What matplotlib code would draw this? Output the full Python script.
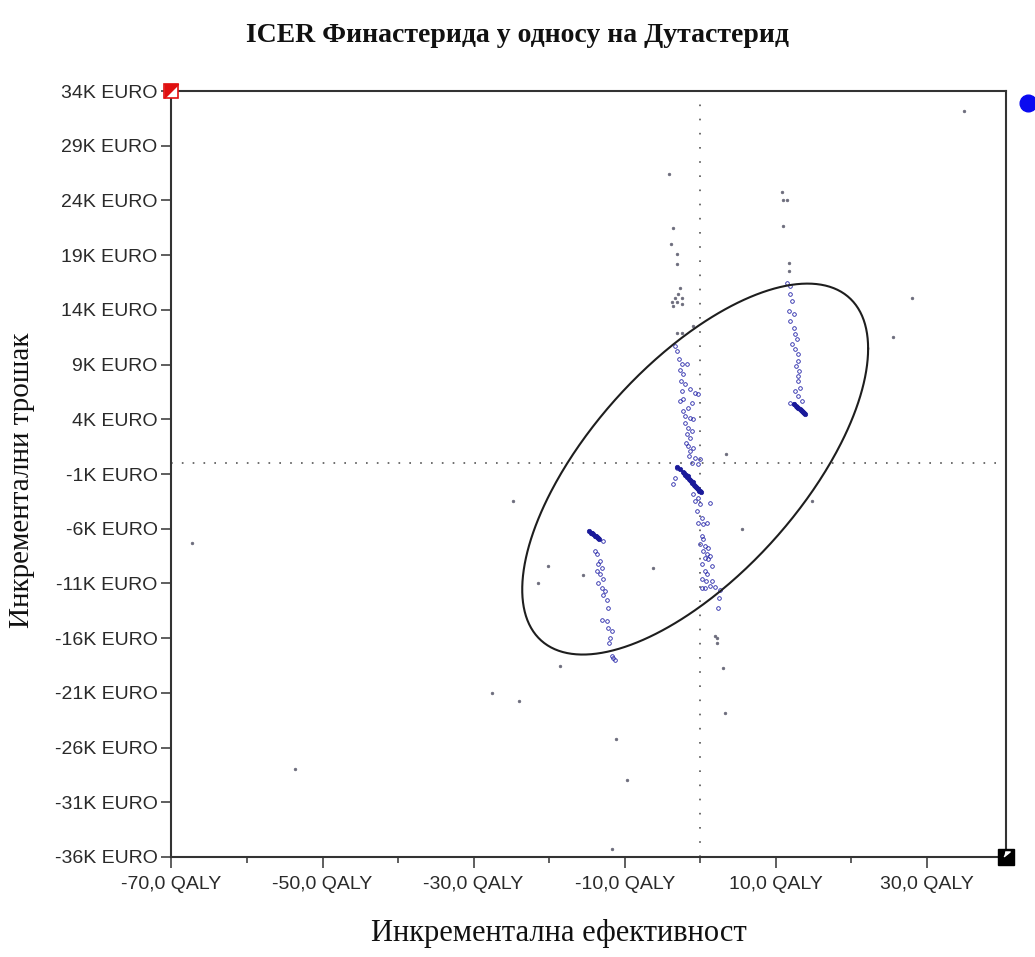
import matplotlib
matplotlib.use('Agg')
import matplotlib.pyplot as plt
import numpy as np

# Fonts: sans for ticks, serif for title and axis labels
plt.rcParams['font.family'] = ['Liberation Sans', 'DejaVu Sans']
SERIF = ['Liberation Serif', 'DejaVu Serif']

# ---- axis ticks ----
x_ticks = [-70, -50, -30, -10, 10, 30]
x_tick_labels = ['-70,0 QALY', '-50,0 QALY', '-30,0 QALY', '-10,0 QALY', '10,0 QALY', '30,0 QALY']
x_minor_ticks = [-60, -40, -20, 0, 20]
y_ticks = [34000, 29000, 24000, 19000, 14000, 9000, 4000, -1000, -6000,
           -11000, -16000, -21000, -26000, -31000, -36000]
y_tick_labels = ['34K EURO', '29K EURO', '24K EURO', '19K EURO', '14K EURO', '9K EURO',
                 '4K EURO', '-1K EURO', '-6K EURO', '-11K EURO', '-16K EURO', '-21K EURO',
                 '-26K EURO', '-31K EURO', '-36K EURO']

# ---- simulated ICER points (QALY, EURO) ----
# central band
central_x = [-3.31, -3.00, -2.74, -2.42, -2.65, -1.76, -2.29, -2.56, -1.99, -2.42,
             -1.32, -0.66, -0.23, -2.21, -2.65, -1.10, -1.55, -2.29, -1.99, -1.32,
             -0.89, -1.99, -1.55, -1.10, -1.76, -1.32, -1.85, -1.55, -0.89, -1.32,
             -1.42, -0.66, -1.10, -0.23, 0.00, -3.09, -3.31, -3.54, 1.32,
             -0.89, -0.23, -0.66, 0.00, -0.44, 0.22, -0.23, 0.44, 0.89,
             0.22, 0.44, 0.00, 0.66, 1.10, 0.44, 0.89, 1.32, 0.66, 1.10,
             0.22, 1.55, 0.66, 0.89, 0.22, 0.79, 1.55, 0.22, 0.66, 1.32,
             1.99, 2.65, 2.56, 2.42]
central_y = [10706, 10248, 9489, 9031, 8482, 9031, 8116, 7503, 7201, 6588,
             6744, 6432, 6286, 5829, 5673, 5517, 5060, 4758, 4301, 4145,
             3999, 3687, 3230, 2928, 2626, 2315, 1857, 1556, 1400, 1098,
             641, 485, 27, -119, 339, -430, -1345, -1949, -3633,
             -2864, -3175, -3477, -3779, -4392, -5005, -5463, -5609, -5463,
             -6680, -6982, -7439, -7595, -7750, -8052, -8354, -8510, -8665, -8811,
             -9269, -9425, -9882, -10184, -10641, -10797, -10797, -11410, -11410, -11255,
             -11346, -11556, -12325, -13240]
# dense diagonal streak in the central band
central_dense_x = [-3.05, -2.65, -2.25, -1.85, -1.46, -1.06, -0.66, -0.26, 0.13, -2.12,
                   -1.72, -1.32, -0.79, -0.40, 0.00, -1.59, -1.19, -1.99, -0.93, -0.53,
                   -0.13]
central_dense_y = [-366, -549, -824, -1098, -1464, -1830, -2105, -2379, -2654, -915,
                   -1281, -1556, -2013, -2288, -2562, -1190, -1647, -1098, -1739, -2196,
                   -2562]

# right cluster
right_x = [11.48, 11.92, 11.92, 12.15, 11.83, 12.36, 11.92, 12.36, 12.62, 12.81,
           12.15, 12.58, 12.89, 13.02, 12.72, 13.15, 12.89, 13.02, 13.25, 12.58,
           13.02, 13.47, 11.92, 12.36]
right_y = [16497, 16196, 15436, 14823, 13908, 13606, 12993, 12380, 11776, 11319,
           10861, 10403, 9946, 9333, 8876, 8418, 7961, 7503, 6890, 6588,
           6131, 5673, 5517, 5371]
right_dense_x = [12.45, 12.72, 12.98, 13.25, 13.51, 13.77, 12.85, 13.38, 13.64, 13.91]
right_dense_y = [5399, 5215, 5033, 4941, 4758, 4575, 5124, 4850, 4667, 4484]

# left cluster
left_x = [-12.81, -13.91, -13.68, -13.25, -13.47, -13.02, -13.68, -13.25, -12.81, -13.47,
          -13.02, -12.58, -12.81, -12.36, -12.15, -13.02, -12.36, -12.15, -11.70, -11.92,
          -12.01, -11.70, -11.26, -11.48]
left_y = [-7137, -8052, -8354, -8967, -9269, -9580, -9882, -10184, -10641, -10953,
          -11410, -11712, -12014, -12471, -13240, -14301, -14457, -15070, -15372, -15985,
          -16443, -17660, -17962, -17813]
left_dense_x = [-14.70, -14.44, -14.17, -13.91, -13.64, -13.38, -14.30, -13.77, -13.51]
left_dense_y = [-6222, -6405, -6497, -6680, -6771, -6954, -6405, -6680, -6863]

# scattered grey outliers
outlier_x = [-67.28, -53.64, -27.55, -23.97, -24.73, -21.42, -20.09, -18.54, -15.46, -11.66,
             -11.13, -9.67, 3.44, 5.52, 14.79, 25.56, 28.08, 34.97, -6.19, 1.99,
             2.29, 2.21, 3.01, 3.31,
             -4.06, -3.54, -3.88, -3.09, -3.09, -2.65, -2.87, -3.31, -2.42, -3.75,
             -3.09, -2.42, -3.54, -0.89, -3.09, -2.42,
             10.82, 10.95, 11.56, 10.95, 11.75, 11.75]
outlier_y = [-7320, -27999, -21045, -21777, -3477, -10953, -9425, -18575, -10248, -35228,
             -25254, -29006, 851, -6066, -3477, 11529, 15098, 32208, -9580, -15830,
             -16443, -15985, -18730, -22848,
             26416, 21475, 20011, 19096, 18181, 15985, 15436, 15125, 15125, 14759,
             14759, 14521, 14366, 12536, 11922, 11922,
             24797, 24037, 24037, 21621, 18327, 17568]

# confidence ellipse: centre, half extents and phase shift between x and y
ell_cx, ell_cy = -0.66, -550
ell_ax, ell_ay = 22.9, 16950
ell_phase = 49.5

x_min, x_max = -70, 40.5
y_min, y_max = -36000, 34000

fig = plt.figure(figsize=(10.35, 9.57), dpi=100)
ax = fig.add_axes([0.1657, 0.1045, 0.8063, 0.8004])

# crosshair through the origin
ax.plot([x_min, x_max], [0, 0], color='#555555', lw=1.2, linestyle=(0, (1, 5.5)), zorder=1)
ax.plot([0, 0], [y_min, y_max], color='#555555', lw=1.2, linestyle=(0, (1, 7.5)), zorder=1)

# points
blue = '#2424a8'
for xs, ys in [(central_x, central_y), (right_x, right_y), (left_x, left_y)]:
    ax.plot(xs, ys, 'o', color=blue, markersize=2.6, markeredgewidth=0.6,
            markerfacecolor='none', zorder=3)
for xs, ys in [(central_dense_x, central_dense_y), (right_dense_x, right_dense_y),
               (left_dense_x, left_dense_y)]:
    ax.plot(xs, ys, 'o', color='#1a1a9a', markersize=3.2, markeredgewidth=0.5, zorder=3)
ax.plot(outlier_x, outlier_y, 'o', color='#6a6a7a', markersize=2.0, markeredgewidth=0.4,
        zorder=3)

# ellipse
t = np.linspace(0, 2 * np.pi, 500)
ph = np.deg2rad(ell_phase)
ax.plot(ell_cx + ell_ax * np.cos(t), ell_cy + ell_ay * np.cos(t - ph),
        color='#1e1e1e', lw=1.5, zorder=4)

# corner markers and the blue dot outside the frame
ax.plot(x_min, y_max, marker='s', markersize=10, markerfacecolor='white',
        markeredgecolor='#e01010', markeredgewidth=1.2, clip_on=False, zorder=10)
ax.plot(x_min, y_max, marker=[(-1, 1), (1, 1), (-1, -1)], markersize=10,
        color='#e01010', clip_on=False, zorder=11)
ax.plot(x_max, y_min, marker='s', markersize=11, color='black', clip_on=False, zorder=10)
ax.plot(x_max, y_min, marker=[(-0.2, 0.9), (0.6, 0.9), (-0.4, 0.1)], markersize=8,
        color='white', clip_on=False, zorder=11)
ax.plot(43.4, 32900, 'o', markersize=12, color='#0a0af0', clip_on=False, zorder=10)

ax.set_xlim(x_min, x_max)
ax.set_ylim(y_min, y_max)

ax.set_xticks(x_ticks)
ax.set_xticklabels(x_tick_labels)
ax.set_xticks(x_minor_ticks, minor=True)
ax.set_yticks(y_ticks)
ax.set_yticklabels(y_tick_labels)

ax.tick_params(axis='both', which='major', direction='out', length=7, width=1.1,
               color='#333333', labelsize=14, labelcolor='#2a2a2a', pad=3)
ax.tick_params(axis='x', which='major', length=8, pad=6)
ax.tick_params(axis='x', which='minor', direction='out', length=4, width=1.1,
               color='#333333')

for s in ax.spines.values():
    s.set_color('#333333')
    s.set_linewidth(1.5)

fig.text(0.50, 0.963, 'ICER Финастерида у односу на Дутастерид', ha='center', va='center',
         fontsize=20, fontweight='bold', family=SERIF, color='#111111')
fig.text(0.54, 0.025, 'Инкрементална ефективност', ha='center', va='center',
         fontsize=22, family=SERIF, color='#111111')
fig.text(0.021, 0.498, 'Инкрементални трошак', ha='center', va='center', rotation=90,
         fontsize=21, family=SERIF, color='#111111')

fig.savefig('out.png', dpi=100)
